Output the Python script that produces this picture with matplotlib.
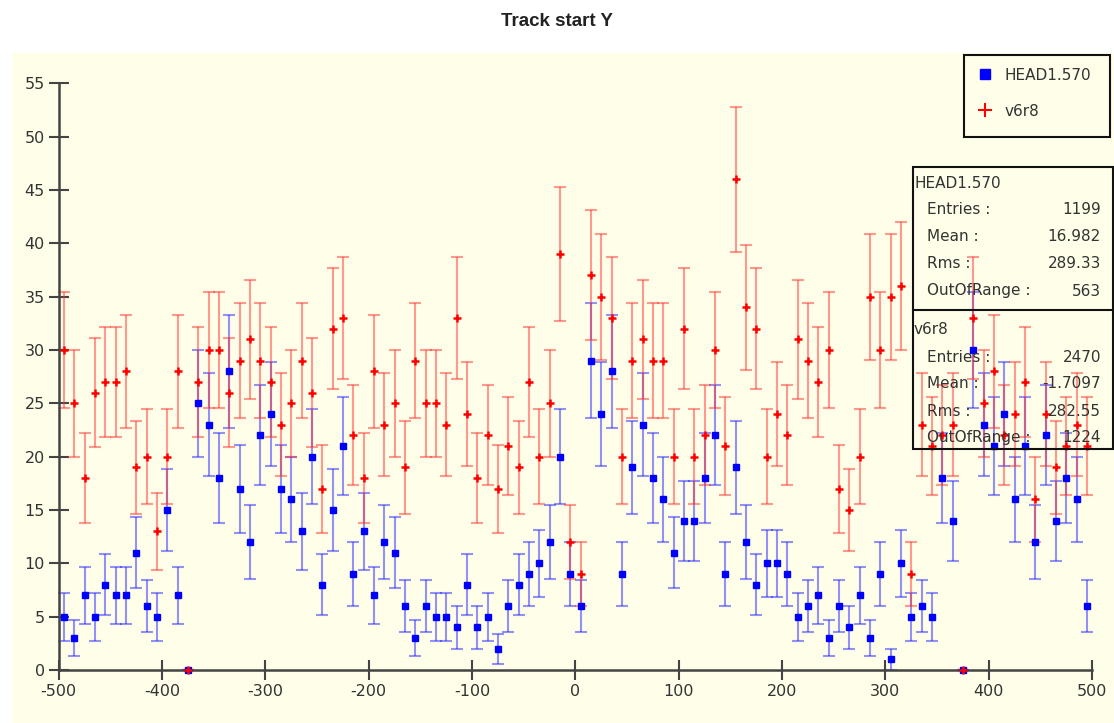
import numpy as np
import matplotlib.pyplot as plt
from matplotlib.patches import Rectangle
from matplotlib.lines import Line2D

plt.rcParams['axes.unicode_minus'] = False

# 100 bins of width 10 between -500 and 500
bin_centers = np.arange(-495, 500, 10)

head_counts = [5, 3, 7, 5, 8, 7, 7, 11, 6, 5,
               15, 7, 0, 25, 23, 18, 28, 17, 12, 22,
               24, 17, 16, 13, 20, 8, 15, 21, 9, 13,
               7, 12, 11, 6, 3, 6, 5, 5, 4, 8,
               4, 5, 2, 6, 8, 9, 10, 12, 20, 9,
               6, 29, 24, 28, 9, 19, 23, 18, 16, 11,
               14, 14, 18, 22, 9, 19, 12, 8, 10, 10,
               9, 5, 6, 7, 3, 6, 4, 7, 3, 9,
               1, 10, 5, 6, 5, 18, 14, 0, 30, 23,
               21, 24, 16, 21, 12, 22, 14, 18, 16, 6]

v6r8_counts = [30, 25, 18, 26, 27, 27, 28, 19, 20, 13,
               20, 28, 0, 27, 30, 30, 26, 29, 31, 29,
               27, 23, 25, 29, 26, 17, 32, 33, 22, 18,
               28, 23, 25, 19, 29, 25, 25, 23, 33, 24,
               18, 22, 17, 21, 19, 27, 20, 25, 39, 12,
               9, 37, 35, 33, 20, 29, 31, 29, 29, 20,
               32, 20, 22, 30, 21, 46, 34, 32, 20, 24,
               22, 31, 29, 27, 30, 17, 15, 20, 35, 30,
               35, 36, 9, 23, 21, 22, 23, 0, 33, 25,
               28, 22, 24, 27, 16, 24, 19, 21, 23, 21]

head_stats = [("Entries :", "1199"), ("Mean :", "16.982"),
              ("Rms :", "289.33"), ("OutOfRange :", "563")]
v6r8_stats = [("Entries :", "2470"), ("Mean :", "-1.7097"),
              ("Rms :", "282.55"), ("OutOfRange :", "1224")]

W, H = 1114, 723
def fx(px):
    return px / W
def fy(py):
    return 1 - py / H

fig = plt.figure(figsize=(W / 100, H / 100), dpi=100)
fig.patches.append(Rectangle((fx(12), 0), 1 - fx(12), fy(53), transform=fig.transFigure,
                             facecolor='#fffee9', edgecolor='none', zorder=-1))

fig.text(0.5, fy(21), 'Track start Y', ha='center', va='center', fontsize=13.5,
         fontweight='bold', family='Liberation Sans', color='#222222')

ax = fig.add_axes([fx(58.7), fy(670), fx(1092) - fx(58.7), fy(83.3) - fy(670)])
ax.patch.set_visible(False)

head = np.array(head_counts, dtype=float)
v6r8 = np.array(v6r8_counts, dtype=float)

ax.errorbar(bin_centers, head, yerr=np.sqrt(head), fmt='none', ecolor=(0.15, 0.15, 1, 0.5),
            elinewidth=1.5, capsize=4.3, capthick=1.5, clip_on=False, zorder=2)
ax.errorbar(bin_centers, v6r8, yerr=np.sqrt(v6r8), fmt='none', ecolor=(1, 0.2, 0.2, 0.5),
            elinewidth=1.5, capsize=4.3, capthick=1.5, clip_on=False, zorder=2)
ax.plot(bin_centers, head, 's', color='#0000ff', ms=4.2, mec='#0000ff', clip_on=False, zorder=3)
ax.plot(bin_centers, v6r8, '+', color='#ff0000', ms=6, mew=1.8, clip_on=False, zorder=4)

ax.set_xlim(-500, 500)
ax.set_ylim(0, 55)
ax.set_xticks(np.arange(-500, 501, 100))
ax.set_yticks(np.arange(0, 56, 5))
for s in ['top', 'right']:
    ax.spines[s].set_visible(False)
for s in ['left', 'bottom']:
    ax.spines[s].set_color('#444444')
    ax.spines[s].set_linewidth(1.8)
ax.tick_params(direction='inout', length=14, width=1.5, color='#444444',
               labelsize=11.5, labelcolor='#333333', pad=3)

# legend box
fig.patches.append(Rectangle((fx(964), fy(137)), fx(1110) - fx(964), fy(55) - fy(137),
                             transform=fig.transFigure, facecolor='none',
                             edgecolor='#111111', lw=1.5, zorder=5))
fig.add_artist(Line2D([fx(985)], [fy(74)], marker='s', color='#0000ff', ms=7,
                      transform=fig.transFigure))
fig.add_artist(Line2D([fx(985)], [fy(110)], marker='+', color='#ff0000', ms=10, mew=1.5,
                      transform=fig.transFigure))
fig.text(fx(1005), fy(75), 'HEAD1.570', va='center', fontsize=11, color='#333333')
fig.text(fx(1005), fy(111), 'v6r8', va='center', fontsize=11, color='#333333')

# statistics box
fig.patches.append(Rectangle((fx(912.5), fy(449)), fx(1113) - fx(912.5), fy(167) - fy(449),
                             transform=fig.transFigure, facecolor='none',
                             edgecolor='#111111', lw=1.5, zorder=5))
fig.add_artist(Line2D([fx(912.5), fx(1113)], [fy(309.5), fy(309.5)], color='#111111', lw=1.5,
                      transform=fig.transFigure))

def stats_block(name, rows, top):
    fig.text(fx(914), fy(top), name, va='center', fontsize=11, color='#333333')
    for i, (label, val) in enumerate(rows):
        y = fy(top + 27 * (i + 1))
        fig.text(fx(927), y, label, va='center', fontsize=11, color='#333333')
        fig.text(fx(1101), y, val, va='center', ha='right', fontsize=11, color='#333333')

stats_block('HEAD1.570', head_stats, 183)
stats_block('v6r8', v6r8_stats, 330)

fig.savefig('out.png', dpi=100)
